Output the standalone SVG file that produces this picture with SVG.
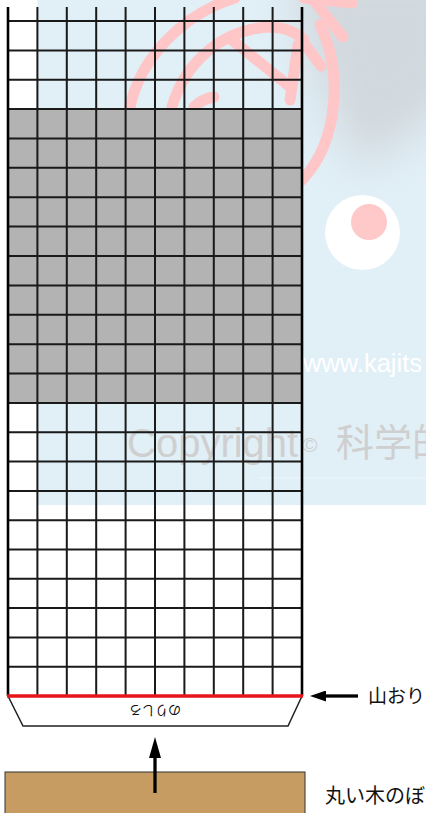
<svg xmlns="http://www.w3.org/2000/svg" width="426" height="813" viewBox="0 0 426 813">
<style>
.grid{fill:none;stroke:#1a1a1a;stroke-width:2}
.logo{fill:none;stroke:#ffc6c8;stroke-width:11;stroke-linecap:round;stroke-linejoin:round}
.jp{font-family:"Liberation Sans","Noto Sans CJK JP",sans-serif;fill:#111}
.conn{stroke:#000;stroke-width:3.3;fill:none}
</style>
<defs>
<filter id="soft" x="-50%" y="-50%" width="200%" height="200%"><feGaussianBlur stdDeviation="22"/></filter>
<clipPath id="bgclip"><rect x="37.4" y="0" width="389" height="505"/></clipPath>
<marker id="ahL" viewBox="0 0 16 11" refX="0" refY="5.5" markerWidth="16" markerHeight="11" orient="auto" markerUnits="userSpaceOnUse"><path d="M0,0 L16,5.5 L0,11 z" fill="#000"/></marker>
<marker id="ahU" viewBox="0 0 21 12" refX="0" refY="6" markerWidth="21" markerHeight="12" orient="auto" markerUnits="userSpaceOnUse"><path d="M0,0 L21,6 L0,12 z" fill="#000"/></marker>
</defs>
<rect width="426" height="813" fill="#fff"/>
<g id="watermark">
<rect x="37.4" y="0" width="389" height="505" fill="#e1eff7"/>
<g clip-path="url(#bgclip)">
<path d="M290,-40 H470 V90 C430,120 400,150 360,170 C330,120 300,60 290,-40 z" fill="#d2d9de" filter="url(#soft)"/>
</g>
<line x1="260" y1="478" x2="426" y2="478" stroke="#eef6fb" stroke-width="1"/>
<path class="logo" d="M130,107 C140,60 180,15 235,-2"/>
<path class="logo" d="M320,25 C342,70 340,140 302,180"/>
<path class="logo" d="M172,107 C185,62 222,30 268,27 C285,27 296,32 304,40"/>
<path class="logo" d="M232,40 L289,86"/>
<path class="logo" d="M298,45 L290,100"/>
<path class="logo" d="M306,46 L321,66"/>
<path class="logo" d="M312,-2 L343,37"/>
<path class="logo" d="M304,-2 L352,3"/>
<path class="logo" d="M194,107 Q202,99 214,97"/>
<circle cx="362.5" cy="232.5" r="37.5" fill="#fff"/>
<circle cx="369" cy="222" r="18" fill="#ffc8c9"/>
<text x="303" y="372" font-family="Liberation Sans,Arial,sans-serif" font-size="25.5" fill="#fff">www.kajits</text>
<text x="127" y="457" font-family="Liberation Sans,Arial,sans-serif" font-size="40" fill="#cfcfcf">Copyright</text>
<text x="302" y="452" font-family="Liberation Sans,Arial,sans-serif" font-size="21" fill="#cfcfcf">©</text>
<text x="336" y="456" font-family="'Noto Sans CJK JP',sans-serif" font-size="38" fill="#cfcfcf">科学的</text>
</g>
<g id="grid">
<rect x="8" y="109" width="294" height="294" fill="#b3b3b3"/>
<path class="grid" d="M8,7V696M37.4,7V696M66.8,7V696M96.2,7V696M125.6,7V696M155,7V696M184.4,7V696M213.8,7V696M243.2,7V696M272.6,7V696M302,7V696"/>
<path class="grid" d="M8,21H302M8,50.4H302M8,79.7H302M8,109H302M8,138.4H302M8,167.8H302M8,197.2H302M8,226.6H302M8,256H302M8,285.4H302M8,314.8H302M8,344.2H302M8,373.6H302M8,403H302M8,432.3H302M8,461.6H302M8,490.9H302M8,520.2H302M8,549.5H302M8,578.8H302M8,608.1H302M8,637.4H302M8,666.7H302"/>
<path d="M8,7V696M302,7V696" stroke="#000" stroke-width="2.6" fill="none"/>
</g>
<g id="norishiro">
<polygon points="8,696 302,696 288,726 23,726" fill="#fff" stroke="#222" stroke-width="1.5"/>
<text class="jp" x="155" y="716" font-size="13" text-anchor="middle" transform="rotate(180 155 711)">のりしろ</text>
</g>
<g id="fold">
<line x1="7" y1="696" x2="303" y2="696" stroke="#e8141c" stroke-width="3.5"/>
</g>
<g id="label-yamaori">
<text class="jp" x="368" y="703" font-size="19">山おり</text>
</g>
<g id="rod">
<rect x="5" y="772" width="300" height="50" fill="#c69c62" stroke="#333" stroke-width="1"/>
</g>
<g id="label-rod">
<text class="jp" x="325" y="803" font-size="20">丸い木のぼ</text>
</g>
<g id="connectors">
<line class="conn" x1="358" y1="696" x2="326" y2="696" marker-end="url(#ahL)"/>
<line class="conn" x1="155" y1="793" x2="155" y2="758" marker-end="url(#ahU)"/>
</g>
</svg>
